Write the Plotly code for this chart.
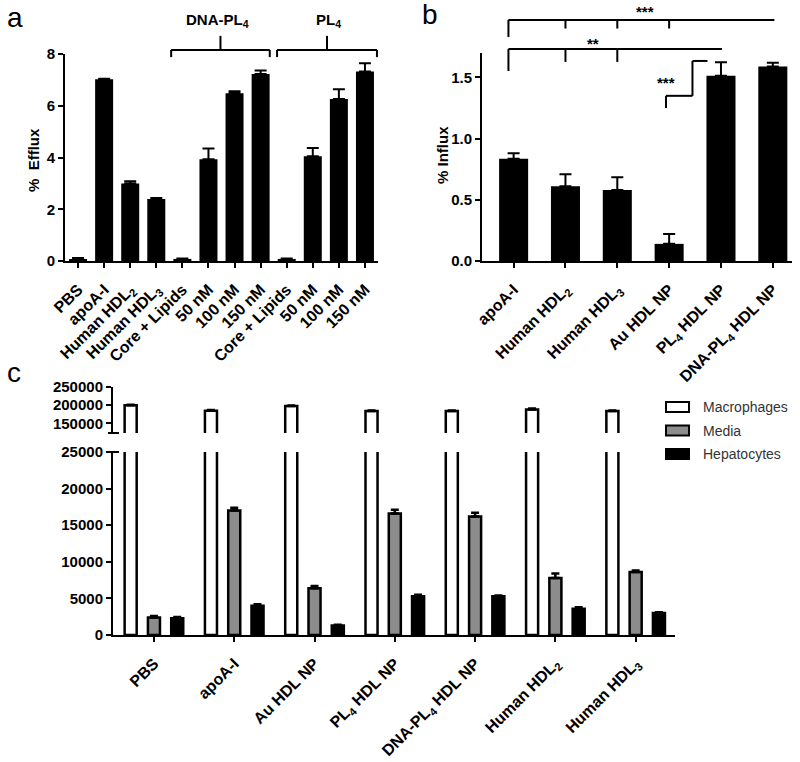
import plotly.graph_objects as go

W, H = 800, 762
FONT = 'Liberation Sans, Arial, sans-serif'

# ---- panel a: efflux ----
a_labels = ['PBS', 'apoA-I', 'Human HDL<sub>2</sub>', 'Human HDL<sub>3</sub>', 'Core + Lipids',
            '50 nM', '100 nM', '150 nM', 'Core + Lipids', '50 nM', '100 nM', '150 nM']
a_efflux = [0.05, 7.02, 3.0, 2.4, 0.08, 3.93, 6.48, 7.23, 0.08, 4.05, 6.26, 7.32]
a_err = [0.07, 0.02, 0.08, 0.03, 0.02, 0.42, 0.08, 0.13, 0.02, 0.32, 0.38, 0.32]
a_groups = ['DNA-PL<sub>4</sub>', 'PL<sub>4</sub>']

# ---- panel b: influx ----
b_labels = ['apoA-I', 'Human HDL<sub>2</sub>', 'Human HDL<sub>3</sub>', 'Au HDL NP',
            'PL<sub>4</sub> HDL NP', 'DNA-PL<sub>4</sub> HDL NP']
b_influx = [0.835, 0.61, 0.58, 0.14, 1.515, 1.59]
b_err = [0.045, 0.10, 0.105, 0.08, 0.11, 0.03]

# ---- panel c: cholesterol distribution ----
c_labels = ['PBS', 'apoA-I', 'Au HDL NP', 'PL<sub>4</sub> HDL NP', 'DNA-PL<sub>4</sub> HDL NP',
            'Human HDL<sub>2</sub>', 'Human HDL<sub>3</sub>']
c_series = ['Macrophages', 'Media', 'Hepatocytes']
macrophages = [200000, 185000, 198000, 184000, 184000, 188000, 184000]
macrophages_err = [1500, 1500, 1500, 1500, 1500, 3000, 1500]
media = [2400, 17000, 6400, 16600, 16200, 7800, 8600]
media_err = [200, 400, 300, 500, 500, 600, 200]
hepatocytes = [2300, 4000, 1300, 5300, 5300, 3600, 3000]
hepatocytes_err = [150, 200, 100, 200, 100, 200, 100]


def px(x):
    return x / W


def py(y):
    return 1 - y / H


def frac(v, rng):
    return (v - rng[0]) / (rng[1] - rng[0])


a_xr, a_yr = [-0.5, 11.5], [0, 8]
b_xr, b_yr = [-0.61, 5.37], [0, 1.7]
c_xr = [-0.51, 6.49]
c_lo, c_hi = [0, 25000], [123600, 250000]

tick_font = dict(family=FONT, size=15, color='black', weight='bold')
axis_style = dict(showline=True, linewidth=2, linecolor='black', ticks='outside', ticklen=5,
                  tickwidth=2, tickcolor='black', showgrid=False, zeroline=False,
                  tickfont=tick_font, fixedrange=True, automargin=False)
xcat_style = dict(axis_style, tickangle=-45, ticklabelstandoff=6,
                  tickfont=dict(tick_font, size=16))
bold15 = dict(family=FONT, size=15, color='black', weight='bold')

fig = go.Figure()

# panel a bars
fig.add_trace(go.Bar(x=list(range(len(a_labels))), y=a_efflux, width=0.69,
                     marker=dict(color='black', line=dict(width=0)),
                     error_y=dict(type='data', array=a_err, arrayminus=[0] * len(a_err),
                                  color='black', thickness=2, width=6),
                     xaxis='x', yaxis='y', showlegend=False))

# panel b bars
fig.add_trace(go.Bar(x=list(range(len(b_labels))), y=b_influx, width=0.56,
                     marker=dict(color='black', line=dict(width=0)),
                     error_y=dict(type='data', array=b_err, arrayminus=[0] * len(b_err),
                                  color='black', thickness=2, width=6),
                     xaxis='x2', yaxis='y2', showlegend=False))

# panel c bars (lower and upper segments of the broken axis)
c_x = list(range(len(c_labels)))
bw = 0.15
c_fill = ['white', '#8c8c8c', 'black']
c_vals = [macrophages, media, hepatocytes]
c_errs = [macrophages_err, media_err, hepatocytes_err]
for k, name in enumerate(c_series):
    for xa, ya in (('x3', 'y3'), ('x4', 'y4')):
        fig.add_trace(go.Bar(x=c_x, y=c_vals[k], width=bw, offset=(k - 1) * 0.29 - bw / 2,
                             marker=dict(color=c_fill[k], line=dict(color='black', width=2.5)),
                             error_y=dict(type='data', array=c_errs[k],
                                          arrayminus=[0] * len(c_x),
                                          color='black', thickness=2.5, width=4),
                             name=name, xaxis=xa, yaxis=ya, showlegend=False))

shapes = []
annotations = []


def line(xref, yref, x0, y0, x1, y1):
    shapes.append(dict(type='line', xref=xref, yref=yref, x0=x0, y0=y0, x1=x1, y1=y1,
                       line=dict(color='black', width=2)))


def label(xref, yref, x, y, text, font, **kw):
    d = dict(xref=xref, yref=yref, x=x, y=y, text=text, showarrow=False, font=font,
             xanchor='center', yanchor='middle')
    d.update(kw)
    annotations.append(d)


# panel a group brackets
for (x0, x1, xt), text in zip([(3.57, 7.35, 5.35), (7.63, 11.46, 9.62)], a_groups):
    xc = (x0 + x1) / 2
    line('x domain', 'y domain', frac(x0, a_xr), frac(8.155, a_yr), frac(x1, a_xr), frac(8.155, a_yr))
    line('x domain', 'y domain', frac(x0, a_xr), frac(8.155, a_yr), frac(x0, a_xr), frac(7.88, a_yr))
    line('x domain', 'y domain', frac(x1, a_xr), frac(8.155, a_yr), frac(x1, a_xr), frac(7.88, a_yr))
    line('x domain', 'y domain', frac(xc, a_xr), frac(8.155, a_yr), frac(xc, a_xr), frac(8.70, a_yr))
    label('x domain', 'y domain', frac(xt, a_xr), frac(9.28, a_yr), text, bold15)

# panel b significance brackets
bx = lambda v: frac(v, b_xr)
by = lambda v: frac(v, b_yr)
R = ('x2 domain', 'y2 domain')
line(*R, bx(-0.1), by(1.97), bx(5.03), by(1.97))
line(*R, bx(-0.1), by(1.97), bx(-0.1), by(1.83))
for i in (1, 2, 3):
    line(*R, bx(i), by(1.97), bx(i), by(1.90))
line(*R, bx(-0.1), by(1.733), bx(4.02), by(1.733))
line(*R, bx(-0.1), by(1.733), bx(-0.1), by(1.553))
for i in (1, 2):
    line(*R, bx(i), by(1.733), bx(i), by(1.627))
step = [(2.94, 1.25), (2.94, 1.35), (3.45, 1.35), (3.45, 1.635), (3.74, 1.635)]
for (x0, y0), (x1, y1) in zip(step[:-1], step[1:]):
    line(*R, bx(x0), by(y0), bx(x1), by(y1))
for x, y, t in [(2.54, 2.04, '***'), (1.53, 1.774, '**'), (2.94, 1.455, '***')]:
    label(*R, bx(x), by(y), t, bold15)

# axis break marks in panel c
shapes.append(dict(type='line', xref='paper', yref='y4 domain', x0=px(108), x1=px(119), y0=0, y1=0,
                   line=dict(color='black', width=2)))
shapes.append(dict(type='line', xref='paper', yref='y3 domain', x0=px(106), x1=px(119), y0=1, y1=1,
                   line=dict(color='black', width=2)))

# panel c legend
for k, name in enumerate(c_series):
    yc = 407 + k * 23.5
    shapes.append(dict(type='rect', xref='paper', yref='paper', x0=px(666), x1=px(689),
                       y0=py(yc + 5), y1=py(yc - 5), fillcolor=c_fill[k],
                       line=dict(color='black', width=2)))
    label('paper', 'paper', px(701), py(yc), name,
          dict(family=FONT, size=14, color='#333333'), xanchor='left')

# axis titles and panel letters
label('paper', 'paper', px(33), py(160), '%  Efflux', bold15, textangle=-90)
label('paper', 'paper', px(443), py(155), '% Influx', bold15, textangle=-90)
letter = dict(family=FONT, size=28, color='black')
label('paper', 'paper', px(15), py(17), 'a', letter)
label('paper', 'paper', px(430), py(15), 'b', letter)
label('paper', 'paper', px(14), py(372), 'c', letter)

fig.update_layout(
    width=W, height=H, margin=dict(l=0, r=0, t=0, b=0, autoexpand=False),
    paper_bgcolor='white', plot_bgcolor='white', barmode='overlay',
    shapes=shapes, annotations=annotations,
    xaxis=dict(xcat_style, domain=[px(65), px(378)], range=a_xr, anchor='y',
               tickvals=list(range(len(a_labels))), ticktext=a_labels),
    yaxis=dict(axis_style, domain=[py(261), py(54)], range=a_yr, anchor='x', dtick=2),
    xaxis2=dict(xcat_style, domain=[px(482), px(792)], range=b_xr, anchor='y2',
                tickvals=list(range(len(b_labels))), ticktext=b_labels),
    yaxis2=dict(axis_style, domain=[py(261), py(53)], range=b_yr, anchor='x2',
                tickvals=[0, 0.5, 1.0, 1.5], tickformat='.1f'),
    xaxis3=dict(xcat_style, domain=[px(113), px(675)], range=c_xr, anchor='y3',
                tickvals=c_x, ticktext=c_labels),
    yaxis3=dict(axis_style, domain=[py(635), py(452)], range=c_lo, anchor='x3',
                dtick=5000, tickformat='d'),
    xaxis4=dict(domain=[px(113), px(675)], range=c_xr, anchor='y4', visible=False,
                matches='x3', fixedrange=True),
    yaxis4=dict(axis_style, domain=[py(433), py(387)], range=c_hi, anchor='x4',
                tickvals=[150000, 200000, 250000], tickformat='d'),
)

fig.write_html('out.html', config={'displayModeBar': False},
               post_script="document.body.style.margin = '0px';")
